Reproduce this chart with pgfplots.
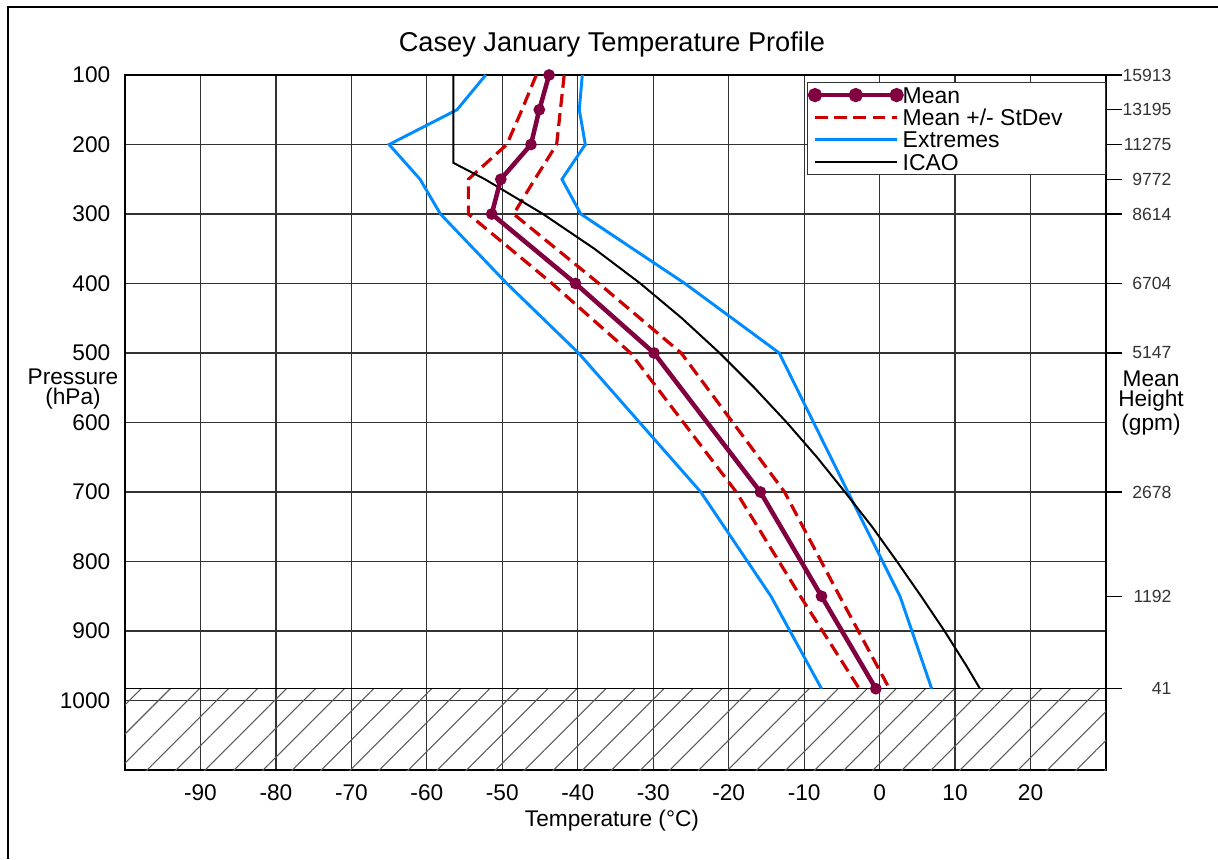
\documentclass[border=0pt]{standalone}
\usepackage{fontspec}
\setmainfont{Liberation Sans}
\usepackage{pgfplots}
\pgfplotsset{compat=1.18}
\usetikzlibrary{patterns.meta}

\definecolor{meanc}{RGB}{128,0,64}
\definecolor{sdc}{RGB}{204,0,0}
\definecolor{extc}{RGB}{0,140,255}
\definecolor{gridc}{RGB}{50,50,50}

\pgfplotsset{
  meanlegend/.style={legend image code/.code={%
    \draw[##1] plot coordinates {(0pt,0pt) (15.3pt,0pt) (30.6pt,0pt)};}},
}

% 1 px of the reference = 0.375pt
\begin{document}
\begin{tikzpicture}
\useasboundingbox (0,0) rectangle (1218*0.375pt,-859*0.375pt);
\draw[line width=0.8pt] (8*0.375pt,-859*0.375pt) -- (8*0.375pt,-7*0.375pt) -- (1218*0.375pt,-7*0.375pt);

\begin{axis}[
  at={(125*0.375pt,-770*0.375pt)}, anchor=south west,
  width=367.875pt, height=260.625pt, scale only axis,
  xmin=-100, xmax=30, ymin=100, ymax=1100, y dir=reverse,
  clip=false,
  xtick={-90,-80,...,20},
  xticklabels={-90,-80,-70,-60,-50,-40,-30,-20,-10,0,10,20},
  ytick={100,200,...,1000},
  yticklabels={100,200,300,400,500,600,700,800,900,1000},
  grid=major, major grid style={gridc, line width=0.45pt},
  major tick length=0pt,
  axis line style={black, line width=0.5pt},
  ticklabel style={font=\fontsize{8.5}{10}\selectfont},
  xticklabel style={yshift=-2pt},
  yticklabel style={xshift=-2pt},
  legend style={at={(0.6952,0.9899)}, anchor=north west, draw=gridc,
    inner xsep=1pt, inner ysep=0.5pt, font=\fontsize{8.6}{9}\selectfont,
    nodes={inner sep=0pt, text height=7.2pt, text depth=1.2pt}, column sep=0.5pt},
  legend cell align=left,
  legend image code/.code={\draw[#1] (0pt,0pt) -- (30.6pt,0pt);},
]

% legend
\addlegendimage{meanc, line width=1.7pt, mark=*, mark size=1.8pt, meanlegend}
\addlegendentry{\makebox[75pt][l]{Mean}}
\addlegendimage{sdc, line width=1.2pt, dash pattern=on 4.8pt off 2.4pt}
\addlegendentry{Mean +/- StDev}
\addlegendimage{extc, line width=1.1pt}
\addlegendentry{Extremes}
\addlegendimage{black, line width=0.75pt}
\addlegendentry{ICAO}

% ground below the surface
\addplot[draw=none, pattern={Lines[angle=45, distance=7.7pt, line width=0.4pt]},
  pattern color=black!65, forget plot]
  coordinates {(-100,983) (30,983) (30,1100) (-100,1100)} -- cycle;
\addplot[black, line width=0.5pt, forget plot] coordinates {(-100,983) (30,983)};

% extremes
\addplot[extc, line width=1.1pt, forget plot] coordinates {
  (-52.2,100) (-56.0,150) (-65.0,200) (-60.9,250) (-58.2,300)
  (-49.4,400) (-39.9,500) (-23.7,700) (-14.4,850) (-7.7,983)};
\addplot[extc, line width=1.1pt, forget plot] coordinates {
  (-39.4,100) (-39.8,150) (-39.0,200) (-42.1,250) (-39.6,300)
  (-25.8,400) (-13.3,500) (-4.2,700) (2.7,850) (6.9,983)};

% mean +/- stdev
\addplot[sdc, line width=1.2pt, dash pattern=on 4.8pt off 2.4pt, forget plot] coordinates {
  (-45.5,100) (-47.4,150) (-49.4,200) (-54.5,250) (-54.5,300)
  (-43.4,400) (-33.0,500) (-19.0,700) (-10.5,850) (-2.7,983)};
\addplot[sdc, line width=1.2pt, dash pattern=on 4.8pt off 2.4pt, forget plot] coordinates {
  (-41.8,100) (-42.3,150) (-42.8,200) (-45.7,250) (-48.5,300)
  (-37.2,400) (-26.3,500) (-12.6,700) (-5.3,850) (1.3,983)};

% ICAO standard atmosphere
\addplot[black, line width=0.75pt, forget plot] coordinates {
  (-56.5,100) (-56.5,226.3) (-52.3,250) (-44.6,300) (-37.8,350) (-31.7,400)
  (-26.2,450) (-21.2,500) (-16.6,550) (-12.3,600) (-8.3,650) (-4.6,700)
  (-1.0,750) (2.3,800) (5.5,850) (8.6,900) (11.5,950) (13.3,983)};

% mean
\addplot[meanc, line width=1.7pt, mark=*, mark size=1.3pt, forget plot] coordinates {
  (-43.8,100) (-45.1,150) (-46.2,200) (-50.2,250) (-51.4,300)
  (-40.3,400) (-29.9,500) (-15.8,700) (-7.7,850) (-0.5,983)};
\end{axis}

% right axis: mean heights
\begin{axis}[
  at={(125*0.375pt,-770*0.375pt)}, anchor=south west,
  width=367.875pt, height=260.625pt, scale only axis,
  xmin=-100, xmax=30, ymin=100, ymax=1100, y dir=reverse,
  xtick=\empty, ytick pos=right, yticklabel pos=right,
  axis line style={draw=none},
  ytick={100,150,200,250,300,400,500,700,850,983},
  yticklabels={15913,13195,11275,9772,8614,6704,5147,2678,1192,41},
  tick align=outside, major tick length=6pt,
  tick style={draw=black, line width=0.5pt},
  yticklabel style={font=\fontsize{6.6}{8}\selectfont, text=black!80,
    anchor=east, inner sep=0pt, xshift=18.75pt},
]
\end{axis}

\node[font=\fontsize{10.2}{12}\selectfont, anchor=base] at (612*0.375pt,-52*0.375pt)
  {Casey January Temperature Profile};
\node[font=\fontsize{8.5}{10}\selectfont, anchor=base] at (612*0.375pt,-826*0.375pt)
  {Temperature (°C)};
\node[font=\fontsize{8.5}{7.2}\selectfont, align=center] at (73*0.375pt,-389*0.375pt)
  {Pressure\\(hPa)};
\node[font=\fontsize{8.5}{7.5}\selectfont, align=center] at (1151*0.375pt,-403*0.375pt)
  {Mean\\Height\\(gpm)};
\end{tikzpicture}
\end{document}
